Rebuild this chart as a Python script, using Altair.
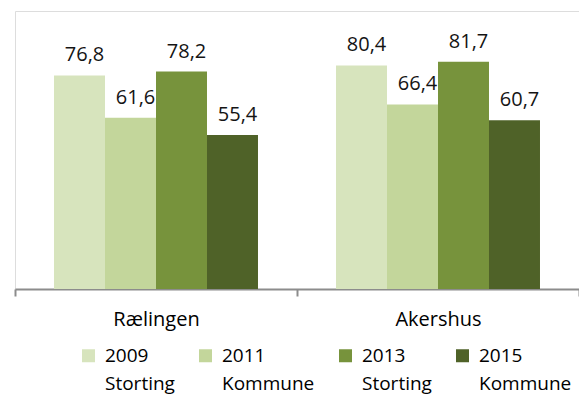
import altair as alt
import pandas as pd

regions = ["Rælingen", "Akershus"]
elections = ["2009|Storting", "2011|Kommune", "2013|Storting", "2015|Kommune"]
raelingen = [76.8, 61.6, 78.2, 55.4]
akershus = [80.4, 66.4, 81.7, 60.7]
colors = ["#D7E4BD", "#C3D69B", "#77933C", "#4F6228"]

rows = []
for reg, vals in zip(regions, [raelingen, akershus]):
    for el, v in zip(elections, vals):
        rows.append({"region": reg, "election": el, "value": v})
df = pd.DataFrame(rows)

FONT = "Open Sans"

base = alt.Chart(df).transform_calculate(
    label="replace(format(datum.value, '.1f'), '.', ',')"
).encode(
    x=alt.X(
        "region:N",
        sort=regions,
        scale=alt.Scale(paddingInner=0, paddingOuter=0),
        axis=alt.Axis(
            title=None,
            tickBand="extent",
            labelAngle=0,
            labelFontSize=20,
            labelFont=FONT,
            labelColor="#000000",
            labelPadding=13,
            tickSize=7,
            tickColor="#8c8c8c",
            tickWidth=2,
            domainColor="#8c8c8c",
            domainWidth=2,
            grid=False,
        ),
    ),
    xOffset=alt.XOffset(
        "election:N",
        sort=elections,
        scale=alt.Scale(paddingInner=0, paddingOuter=0.765),
    ),
    y=alt.Y("value:Q", scale=alt.Scale(domain=[0, 100]), axis=None),
)

bars = base.mark_bar().encode(
    color=alt.Color(
        "election:N",
        sort=elections,
        scale=alt.Scale(domain=elections, range=colors),
        legend=alt.Legend(
            title=None,
            orient="none",
            legendX=64,
            legendY=335,
            direction="horizontal",
            columns=4,
            columnPadding=21,
            rowPadding=0,
            padding=0,
            symbolType="square",
            symbolSize=169,
            symbolStrokeWidth=0,
            symbolOpacity=1,
            labelOffset=7,
            labelFontSize=19,
            labelFont=FONT,
            labelColor="#000000",
            labelLimit=300,
            labelBaseline="middle",
            labelExpr="split(datum.label, '|')",
        ),
    )
)

text = base.mark_text(
    baseline="alphabetic", dy=-14, dx=5, fontSize=20, font=FONT, color="#141414"
).encode(text="label:N")

chart = (
    alt.layer(bars, text)
    .properties(
        width=564,
        height=278,
        padding={"left": 7, "top": 3, "right": 0, "bottom": 110},
        autosize=alt.AutoSizeParams(type="none"),
    )
    .configure_view(stroke=None)
    .configure(font=FONT, style={"guide-label": {"lineHeight": 28}})
)

chart.save("out.html", embed_options={"renderer": "svg", "actions": False})
